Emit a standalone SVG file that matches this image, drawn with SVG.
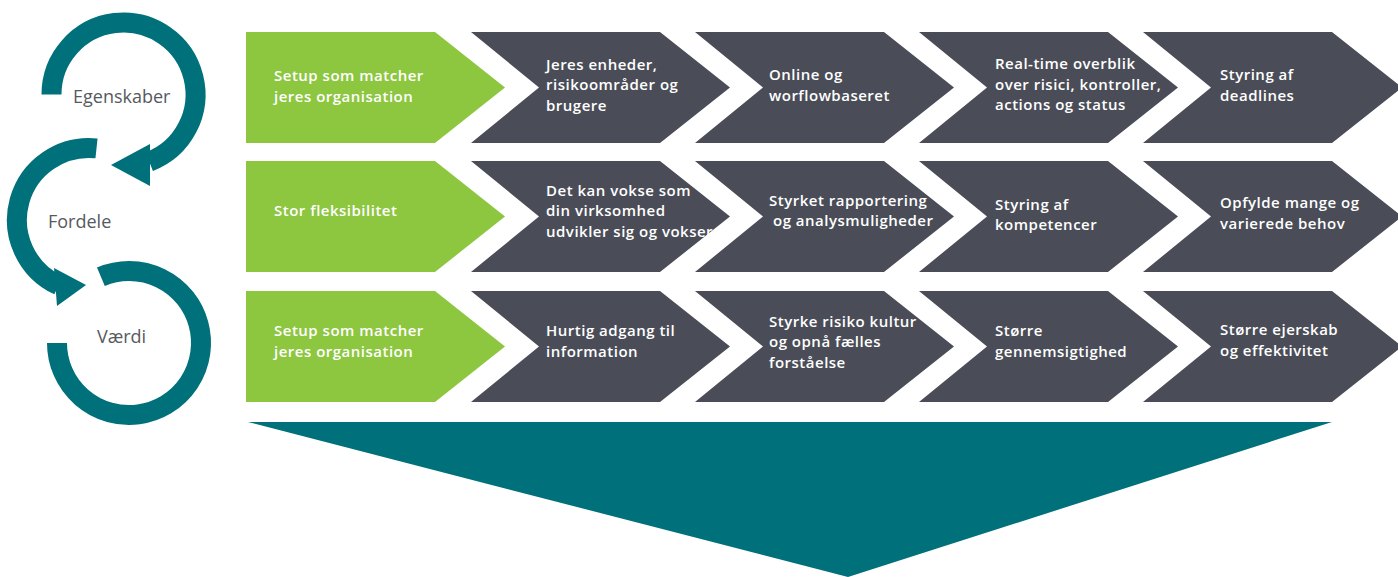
<svg xmlns="http://www.w3.org/2000/svg" xmlns:xlink="http://www.w3.org/1999/xlink" width="1398" height="577" viewBox="0 0 1398 577">
<style>
.g{fill:#8DC63F}
.d{fill:#4A4D57}
.t{font-family:"Open Sans","Liberation Sans",sans-serif;font-size:15px;font-weight:600;letter-spacing:0.5px;fill:#ffffff}
.lbl{font-family:"Open Sans","Liberation Sans",sans-serif;font-size:18px;font-weight:400;fill:#555a5e}
.ring{fill:none;stroke:#00707A;stroke-width:20}
.ah{fill:#00707A}
</style>
<defs>
<path id="chev" d="M0,0 H189 L259,55.5 L189,111 H0 L68,55.5 Z"/>
<path id="gchev" d="M0,0 H189 L259,55.5 L189,111 H0 Z"/>
</defs>
<rect width="1398" height="577" fill="#ffffff"/>

<g id="connectors">
<path class="ring" d="M51.5,94.5 A72,72 0 1 1 149.3,161.7"/>
<polygon class="ah" points="150,144 150,186 111,165"/>
<path class="ring" d="M96.5,148.4 A72,72 0 0 0 58.6,285.3"/>
<polygon class="ah" points="54,268 57,306 86,285"/>
<path class="ring" d="M100.9,276.7 A72,72 0 1 1 57,343"/>
</g>

<g id="label-egenskaber"><text class="lbl" x="73" y="103">Egenskaber</text></g>
<g id="label-fordele"><text class="lbl" x="48" y="228">Fordele</text></g>
<g id="label-vaerdi"><text class="lbl" x="97" y="343">Værdi</text></g>

<g id="r1c0"><use href="#gchev" class="g" x="246" y="32"/>
<text class="t" x="274" y="81.25">Setup som matcher<tspan x="274" y="101.75">jeres organisation</tspan></text></g>
<g id="r1c1"><use href="#chev" class="d" x="471" y="32"/>
<text class="t" x="546" y="69.5">Jeres enheder,<tspan x="546" y="90">risikoområder og</tspan><tspan x="546" y="110.5">brugere</tspan></text></g>
<g id="r1c2"><use href="#chev" class="d" x="695" y="32"/>
<text class="t" x="769" y="80.25">Online og<tspan x="769" y="100.75">worflowbaseret</tspan></text></g>
<g id="r1c3"><use href="#chev" class="d" x="919" y="32"/>
<text class="t" x="995" y="69">Real-time overblik<tspan x="995" y="89.5">over risici, kontroller,</tspan><tspan x="995" y="110">actions og status</tspan></text></g>
<g id="r1c4"><use href="#chev" class="d" x="1143" y="32"/>
<text class="t" x="1220" y="80.25">Styring af<tspan x="1220" y="100.75">deadlines</tspan></text></g>

<g id="r2c0"><use href="#gchev" class="g" x="246" y="161"/>
<text class="t" x="274" y="216">Stor fleksibilitet</text></g>
<g id="r2c1"><use href="#chev" class="d" x="471" y="161"/>
<text class="t" x="546" y="195.5">Det kan vokse som<tspan x="546" y="216">din virksomhed</tspan><tspan x="546" y="236.5">udvikler sig og vokser</tspan></text></g>
<g id="r2c2"><use href="#chev" class="d" x="695" y="161"/>
<text class="t" x="769" y="205.75">Styrket rapportering<tspan x="773" y="226.25">og analysmuligheder</tspan></text></g>
<g id="r2c3"><use href="#chev" class="d" x="919" y="161"/>
<text class="t" x="995" y="209.75">Styring af<tspan x="995" y="230.25">kompetencer</tspan></text></g>
<g id="r2c4"><use href="#chev" class="d" x="1143" y="161"/>
<text class="t" x="1220" y="208.25">Opfylde mange og<tspan x="1220" y="228.75">varierede behov</tspan></text></g>

<g id="r3c0"><use href="#gchev" class="g" x="246" y="291"/>
<text class="t" x="274" y="336.25">Setup som matcher<tspan x="274" y="356.75">jeres organisation</tspan></text></g>
<g id="r3c1"><use href="#chev" class="d" x="471" y="291"/>
<text class="t" x="546" y="336.25">Hurtig adgang til<tspan x="546" y="356.75">information</tspan></text></g>
<g id="r3c2"><use href="#chev" class="d" x="695" y="291"/>
<text class="t" x="769" y="326.5">Styrke risiko kultur<tspan x="769" y="347">og opnå fælles</tspan><tspan x="769" y="367.5">forståelse</tspan></text></g>
<g id="r3c3"><use href="#chev" class="d" x="919" y="291"/>
<text class="t" x="995" y="336.25">Større<tspan x="995" y="356.75">gennemsigtighed</tspan></text></g>
<g id="r3c4"><use href="#chev" class="d" x="1143" y="291"/>
<text class="t" x="1220" y="335.25">Større ejerskab<tspan x="1220" y="355.75">og effektivitet</tspan></text></g>

<g id="result-arrow"><polygon fill="#00707A" points="248,422 1332,422 848,577"/></g>
</svg>
